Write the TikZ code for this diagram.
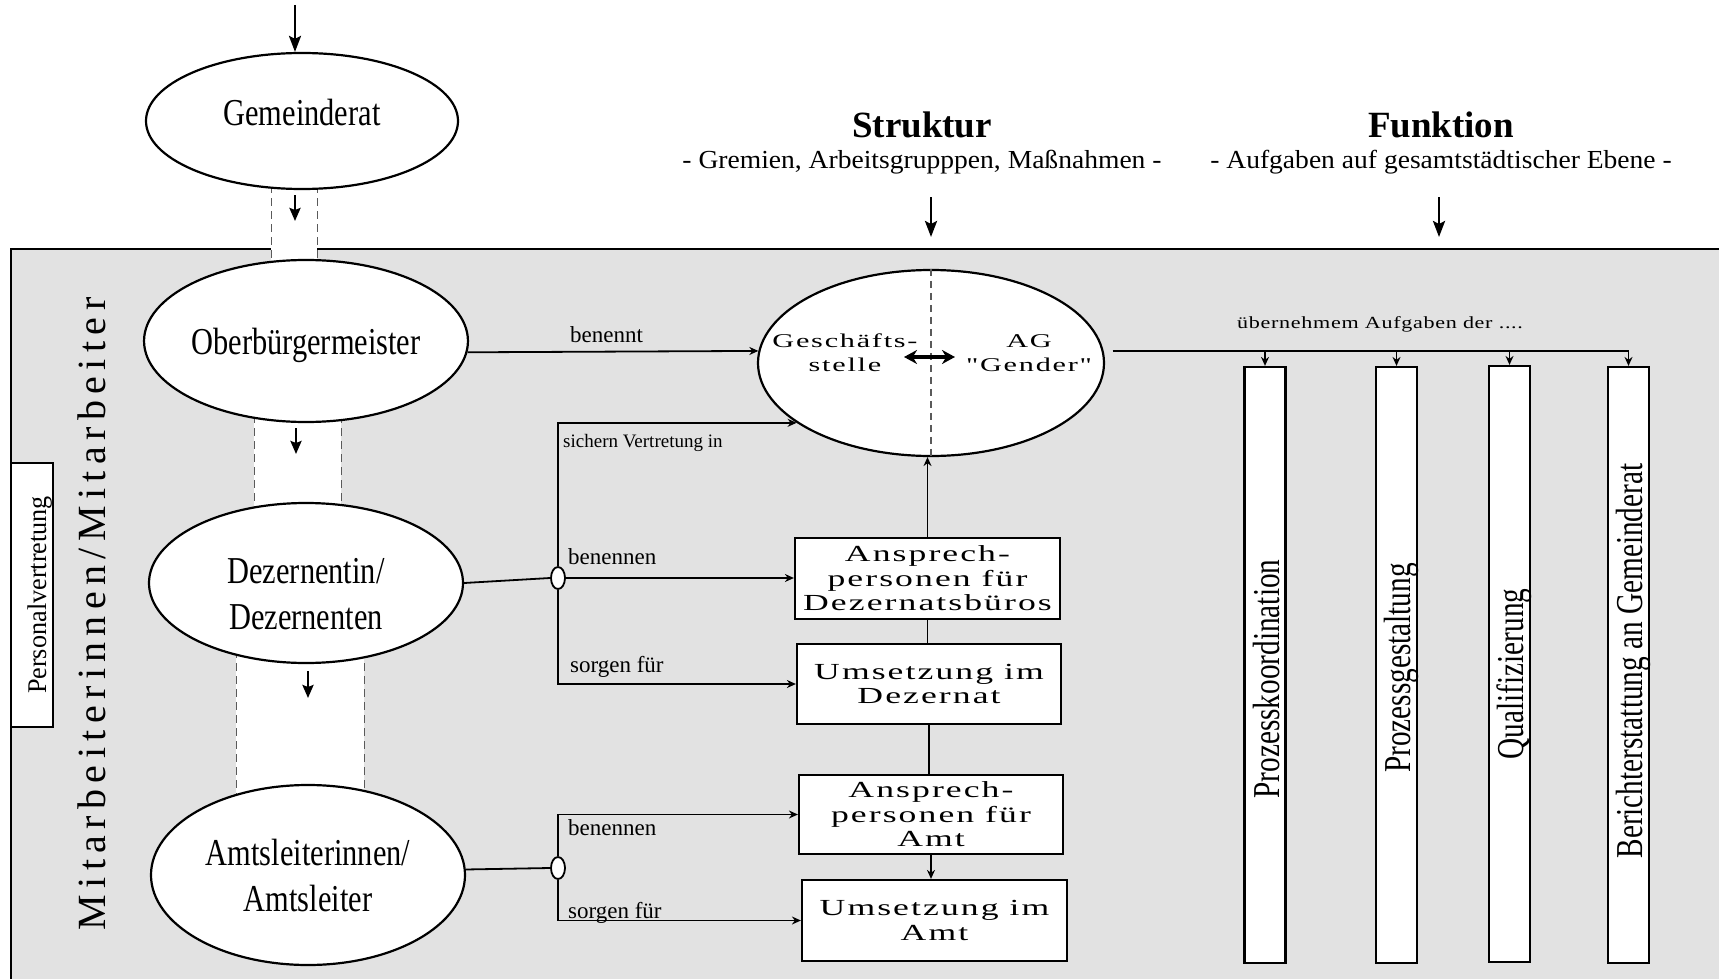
\documentclass[tikz,border=0pt]{standalone}
\usepackage{fontspec}
\setmainfont{Liberation Serif}
\newfontfamily\condf[FakeStretch=0.8]{Liberation Serif}
\newfontfamily\barf[FakeStretch=0.77]{Liberation Serif}
\newfontfamily\widef[FakeStretch=1.55,LetterSpace=9]{Liberation Serif}
\newfontfamily\widelt[FakeStretch=1.3,LetterSpace=4]{Liberation Serif}
\newfontfamily\subf[FakeStretch=1.06]{Liberation Serif}
\newfontfamily\mitf[LetterSpace=16]{Liberation Serif}
\newfontfamily\pvf[FakeStretch=0.97]{Liberation Serif}
\usetikzlibrary{arrows.meta,shapes.geometric}
\definecolor{bg}{RGB}{226,226,226}
\definecolor{dashc}{RGB}{90,90,90}
\begin{document}
\begin{tikzpicture}[x=1pt,y=-1pt,
  ell/.style={ellipse, draw, fill=white, line width=2.2pt, inner sep=0pt, font=\condf\fontsize{38}{46}\selectfont, align=center},
  boxn/.style={draw, fill=white, line width=2.2pt, inner sep=0pt, font=\widef\fontsize{23}{24.5}\selectfont, align=center},
  barn/.style={draw, fill=white, line width=2.2pt, inner sep=0pt, minimum width=41pt, minimum height=596pt},
  bartxt/.style={rotate=90, anchor=base, font=\barf\fontsize{38}{38}\selectfont, inner sep=0pt},
  lbl/.style={font=\fontsize{23}{23}\selectfont, inner sep=0pt, anchor=base west},
  junc/.style={ellipse, draw, fill=white, line width=1.8pt, minimum width=14pt, minimum height=22pt, inner sep=0pt},
  conn/.style={line width=1.8pt},
  thinarr/.style={-{Stealth[length=9pt,width=8pt]}, line width=1.8pt},
  medarr/.style={-{Stealth[length=13pt,width=11pt,inset=2pt]}, line width=2.5pt},
  bigarr/.style={-{Stealth[length=16pt,width=12pt,inset=3pt]}, line width=2.6pt},
  bandline/.style={dashc, line width=1pt, dash pattern=on 8pt off 5pt},
]
\useasboundingbox (0,0) rectangle (1719,979);
\fill[white] (0,0) rectangle (1719,979);
\draw[fill=bg, line width=2pt] (11,249) rectangle (1740,1000);

% white bands between the hierarchy levels
\fill[white] (271,185) rectangle (317,265);
\draw[bandline] (271,185) -- (271,265);
\draw[bandline] (317,185) -- (317,265);
\fill[white] (254,415) rectangle (341,510);
\draw[bandline] (254,415) -- (254,510);
\draw[bandline] (341,415) -- (341,510);
\fill[white] (236,650) rectangle (364,795);
\draw[bandline] (236,650) -- (236,795);
\draw[bandline] (364,650) -- (364,795);

% hierarchy
\node[ell, minimum width=312pt, minimum height=136pt, text depth=18pt] (gr) at (302,121) {Gemeinderat};
\node[ell, minimum width=314pt, minimum height=162pt, text depth=0pt] (ob) at (306,341) {Oberbürgermeister};
\node[ell, minimum width=314pt, minimum height=160pt, text height=92pt, text depth=0pt] (dez) at (306,583) {Dezernentin/\\Dezernenten};
\node[ell, minimum width=314pt, minimum height=180pt] (amt) at (308,875) {Amtsleiterinnen/\\Amtsleiter};

\node[draw, fill=white, rotate=90, line width=2pt, minimum width=264pt, minimum height=42pt, inner sep=0pt, text height=28pt, text depth=0pt, font=\pvf\fontsize{27}{27}\selectfont] (pv) at (32,595) {Personalvertretung};
\node[rotate=90, anchor=base, inner sep=0pt, font=\mitf\fontsize{40}{40}\selectfont] (ma) at (105,614) {Mitarbeiterinnen/Mitarbeiter};

% headings
\node[anchor=base, inner sep=0pt, font=\bfseries\fontsize{37}{37}\selectfont] (st) at (922,138) {Struktur};
\node[anchor=base, inner sep=0pt, font=\subf\fontsize{26}{26}\selectfont] (sts) at (922,168) {- Gremien, Arbeitsgrupppen, Maßnahmen -};
\node[anchor=base, inner sep=0pt, font=\bfseries\fontsize{37}{37}\selectfont] (fu) at (1441,138) {Funktion};
\node[anchor=base, inner sep=0pt, font=\subf\fontsize{26}{26}\selectfont] (fus) at (1441,168) {- Aufgaben auf gesamtstädtischer Ebene -};

% central ellipse
\node[ellipse, draw, fill=white, line width=2.2pt, minimum width=346pt, minimum height=186pt, inner sep=0pt] (ge) at (931,363) {};
\draw[dashc, line width=1.2pt, dash pattern=on 7pt off 5pt] (ge.north) -- (ge.south);
\node[font=\widef\fontsize{19.5}{24}\selectfont, align=center, inner sep=0pt] (gs) at (845,353) {Geschäfts-\\stelle};
\node[font=\widef\fontsize{19.5}{24}\selectfont, align=center, inner sep=0pt] (ag) at (1029,353) {AG\\"Gender"};
\coordinate (dl) at (904,357);
\coordinate (dr) at (955,357);
\draw[{Stealth[length=13pt,width=14pt]}-{Stealth[length=13pt,width=14pt]}, line width=3.8pt] (dl) -- (dr);

% boxes
\node[boxn, minimum width=265pt, minimum height=81pt] (b1) at (927.5,578.5) {Ansprech-\\personen für\\Dezernatsbüros};
\node[boxn, minimum width=264pt, minimum height=80pt] (b2) at (929,684) {Umsetzung im\\Dezernat};
\node[boxn, minimum width=264pt, minimum height=79pt] (b3) at (931,814.5) {Ansprech-\\personen für\\Amt};
\node[boxn, minimum width=265pt, minimum height=81pt] (b4) at (934.5,920.5) {Umsetzung im\\Amt};

% junctions
\node[junc] (j1) at (558,578) {};
\node[junc] (j2) at (558,868) {};

% bars
\node[barn] (p1) at (1265,665) {};
\node[barn] (p2) at (1396.5,665) {};
\node[barn] (p3) at (1509.5,664) {};
\node[barn] (p4) at (1628.5,665) {};
\node[bartxt] (t1) at (1279,679) {Prozesskoordination};
\node[bartxt] (t2) at (1410.5,668) {Prozessgestaltung};
\node[bartxt] (t3) at (1523.5,674) {Qualifizierung};
\node[bartxt] (t4) at (1642.5,661) {Berichterstattung an Gemeinderat};

% arrows from top
\coordinate (a1s) at (295,5);
\draw[bigarr] (a1s) -- (a1s |- gr.north);
\coordinate (a2s) at (295,195);
\coordinate (a2e) at (295,221);
\draw[medarr] (a2s) -- (a2e);
\coordinate (a3s) at (296,428);
\coordinate (a3e) at (296,454);
\draw[medarr] (a3s) -- (a3e);
\coordinate (a4s) at (308,671);
\coordinate (a4e) at (308,698);
\draw[medarr] (a4s) -- (a4e);
\coordinate (a5s) at (931,197);
\coordinate (a5e) at (931,237);
\draw[bigarr] (a5s) -- (a5e);
\coordinate (a6s) at (1439,197);
\coordinate (a6e) at (1439,237);
\draw[bigarr] (a6s) -- (a6e);

% connectors
\draw[thinarr] (ob.-4) -- (ge.176);
\node[lbl] (l1) at (570,342) {benennt};
\draw[conn] (dez.east) -- (j1.west);
\draw[thinarr] (j1.north) |- (ge.204);
\node[lbl, font=\fontsize{19}{19}\selectfont] (l2) at (563,447) {sichern Vertretung in};
\draw[thinarr] (j1.east) -- (j1.east -| b1.west);
\node[lbl] (l3) at (568,564) {benennen};
\draw[thinarr] (j1.south) |- (b2.west);
\node[lbl] (l4) at (570,672) {sorgen für};
\draw[thinarr] (b1.north) -- (b1.north |- ge.south);
\draw[conn] (b1.south) -- (b1.south |- b2.north);
\draw[conn] (b2.south) -- (b2.south |- b3.north);
\draw[thinarr] (b3.south) -- (b3.south |- b4.north);
\draw[conn] (amt.2) -- (j2.west);
\draw[thinarr] (j2.north) |- (b3.west);
\node[lbl] (l5) at (568,835) {benennen};
\draw[thinarr] (j2.south) |- (b4.west);
\node[lbl] (l6) at (568,918) {sorgen für};

% functions
\coordinate (hl) at (0,352);
\draw[conn, shorten <=9pt] (ge.4) -- (ge.4 -| p4.north);
\node[anchor=base west, inner sep=0pt, font=\widelt\fontsize{17}{17}\selectfont] (ueb) at (1237,328) {übernehmem Aufgaben der ....};
\foreach \p in {p1,p2,p3,p4} {
  \draw[thinarr] (\p.north |- hl) -- (\p.north);
}
\end{tikzpicture}
\end{document}
